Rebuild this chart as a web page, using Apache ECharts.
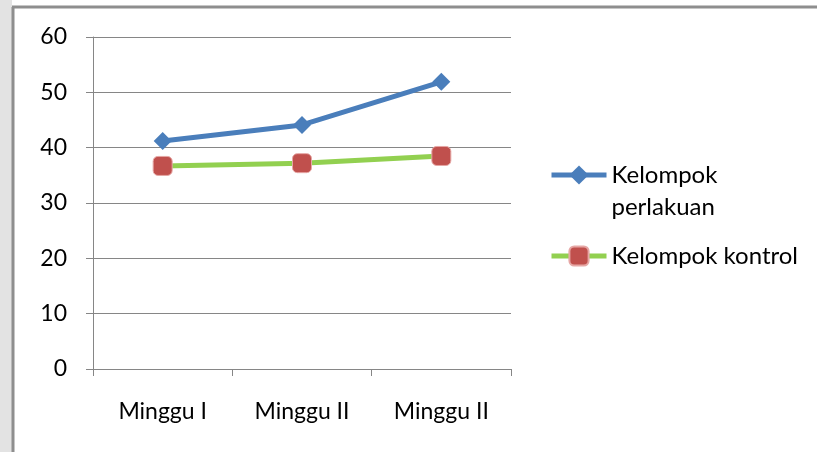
<!DOCTYPE html>
<html>
<head>
<meta charset="utf-8">
<script src="https://cdn.jsdelivr.net/npm/echarts@6/dist/echarts.min.js"></script>
<style>
  html, body { margin: 0; padding: 0; background: #fff; }
  #chart { width: 817px; height: 452px; }
</style>
</head>
<body>
<div id="chart"></div>
<script>
const categories = ['Minggu I', 'Minggu II', 'Minggu II'];
const perlakuan = [41.2, 44.1, 51.9];
const kontrol = [36.7, 37.2, 38.5];
const seriesNames = ['Kelompok perlakuan', 'Kelompok kontrol'];

const chartDom = document.getElementById('chart');
const myChart = echarts.init(chartDom, null, { renderer: 'canvas' });

const font = 'Lato';
const gray = '#868686';

const option = {
    animation: false,
    textStyle: { fontFamily: font },
    graphic: [
        // light strip left of the frame
        { type: 'rect', left: 0, top: 0, shape: { width: 12, height: 452 }, style: { fill: '#e3e3e3' }, z: -1 },
        // chart frame (top and left edges visible)
        { type: 'line', shape: { x1: 12, y1: 7, x2: 817, y2: 7 }, style: { stroke: '#8e8e8e', lineWidth: 3 } },
        { type: 'line', shape: { x1: 13, y1: 7, x2: 13, y2: 452 }, style: { stroke: '#8e8e8e', lineWidth: 3 } }
    ],
    grid: { left: 93, right: 306, top: 37, bottom: 83 },
    xAxis: {
        type: 'category',
        data: categories,
        boundaryGap: true,
        axisLine: { lineStyle: { color: gray, width: 1 } },
        axisTick: { show: true, length: 7, lineStyle: { color: gray } },
        axisLabel: { color: '#000', fontSize: 23, margin: 31 }
    },
    yAxis: {
        type: 'value',
        min: 0,
        max: 60,
        interval: 10,
        axisLine: { show: true, lineStyle: { color: gray, width: 1 } },
        axisTick: { show: true, length: 7, lineStyle: { color: gray } },
        axisLabel: { color: '#000', fontSize: 23, margin: 26 },
        splitLine: { lineStyle: { color: gray, width: 1 } }
    },
    legend: [
        {
            data: [seriesNames[0]],
            left: 549,
            top: 127,
            padding: 0,
            itemWidth: 55,
            itemHeight: 24,
            lineStyle: { width: 5 },
            // blank first line keeps "Kelompok" level with the icon
            formatter: () => '\nKelompok\nperlakuan',
            textStyle: { color: '#000', fontSize: 24, lineHeight: 32 }
        },
        {
            data: [seriesNames[1]],
            left: 549,
            top: 244,
            padding: 0,
            itemWidth: 55,
            itemHeight: 24,
            lineStyle: { width: 5 },
            textStyle: { color: '#000', fontSize: 24 }
        }
    ],
    series: [
        {
            name: seriesNames[0],
            type: 'line',
            data: perlakuan,
            symbol: 'diamond',
            symbolSize: 18,
            lineStyle: { color: '#4a7ebb', width: 5 },
            itemStyle: { color: '#4a7ebb' }
        },
        {
            name: seriesNames[1],
            type: 'line',
            data: kontrol,
            symbol: 'roundRect',
            symbolSize: 19,
            lineStyle: { color: '#92d050', width: 5 },
            itemStyle: { color: '#c0504d', borderColor: '#e6a7a5', borderWidth: 1 }
        }
    ]
};

myChart.setOption(option);
window.addEventListener('resize', myChart.resize);
</script>
</body>
</html>
